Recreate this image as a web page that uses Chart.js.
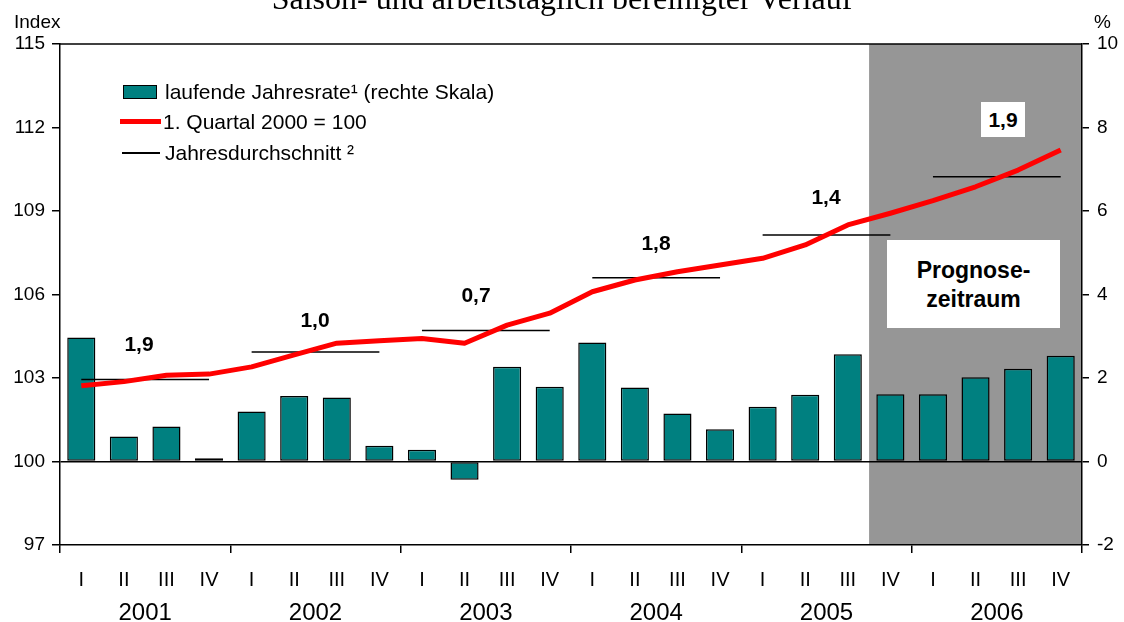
<!DOCTYPE html>
<html>
<head>
<meta charset="utf-8">
<script src="https://cdn.jsdelivr.net/npm/chart.js@4"></script>
<style>
    body { margin: 0; background: #fff; }
    #wrap { position: relative; width: 1124px; height: 622px; overflow: hidden; font-family: Arial, "Liberation Sans", sans-serif; color: #000; }
    #wrap canvas { position: absolute; left: 0; top: 0; }
    .abs { position: absolute; white-space: nowrap; }
    .title { left: 0; width: 1124px; top: -18px; text-align: center; font-family: "Times New Roman", "Liberation Serif", serif; font-size: 32px; line-height: 32px; }
    .unit { font-size: 19px; line-height: 20px; }
    .leg { font-size: 21px; line-height: 24px; }
    .val { font-size: 21px; font-weight: bold; line-height: 24px; transform: translate(-50%, -50%); }
    .prog { left: 887px; top: 240px; width: 173px; height: 88px; background: #fff; text-align: center; font-weight: bold; font-size: 23px; line-height: 29px; padding-top: 16px; box-sizing: border-box; }
</style>
</head>
<body>
<div id="wrap">
    <canvas id="chart" width="1124" height="622"></canvas>

    <div class="abs title">Saison- und arbeitstäglich bereinigter Verlauf</div>
    <div class="abs unit" style="left:14px; top:12px;">Index</div>
    <div class="abs unit" style="left:1094px; top:12px;">%</div>

    <!-- legend -->
    <div class="abs" style="left:123px; top:85px; width:32px; height:12px; background:#008080; border:1.5px solid #000;"></div>
    <div class="abs leg" style="left:165px; top:80px;">laufende Jahresrate¹ (rechte Skala)</div>
    <div class="abs" style="left:120px; top:119px; width:41px; height:5px; background:#ff0000;"></div>
    <div class="abs leg" style="left:163px; top:110px;">1. Quartal 2000 = 100</div>
    <div class="abs" style="left:122px; top:152px; width:38px; height:1.5px; background:#000;"></div>
    <div class="abs leg" style="left:165px; top:141px;">Jahresdurchschnitt ²</div>

    <!-- annual rates -->
    <div class="abs val" style="left:139px; top:344px;">1,9</div>
    <div class="abs val" style="left:315px; top:320px;">1,0</div>
    <div class="abs val" style="left:476px; top:295px;">0,7</div>
    <div class="abs val" style="left:656px; top:243px;">1,8</div>
    <div class="abs val" style="left:826px; top:197px;">1,4</div>
    <div class="abs" style="left:981px; top:102px; width:44px; height:35px; background:#fff;"></div>
    <div class="abs val" style="left:1003px; top:120px;">1,9</div>

    <div class="abs prog">Prognose-<br>zeitraum</div>
</div>

<script>
// --- data ---
const years = ["2001", "2002", "2003", "2004", "2005", "2006"];
const quarterNames = ["I", "II", "III", "IV"];

// laufende Jahresrate in % (right scale)
const rateValues = [
    2.97, 0.60, 0.84, 0.08,
    1.20, 1.57, 1.53, 0.38,
    0.28, -0.44, 2.27, 1.79,
    2.85, 1.77, 1.15, 0.77,
    1.31, 1.60, 2.57, 1.61,
    1.61, 2.02, 2.22, 2.53
];

// Index, 1. Quartal 2000 = 100 (left scale)
const indexValues = [
    102.72, 102.87, 103.10, 103.14,
    103.40, 103.83, 104.25, 104.34,
    104.42, 104.25, 104.90, 105.33,
    106.10, 106.52, 106.82, 107.06,
    107.30, 107.78, 108.50, 108.92,
    109.37, 109.87, 110.47, 111.19
];

// Jahresdurchschnitt of the index
const yearAverages = [102.95, 103.93, 104.71, 106.60, 108.14, 110.23];

const FORECAST_START = 19; // first forecast quarter (2005 IV)
const TEAL = "#008080";
const RED = "#ff0000";
const GREY = "#969696";

const labels = years.flatMap(y => quarterNames.map(q => q + " " + y));

Chart.defaults.font.family = "Arial, 'Liberation Sans', sans-serif";
Chart.defaults.color = "#000";

const avgSets = yearAverages.map((avg, k) => ({
    type: "line",
    data: labels.map((_, i) => Math.floor(i / 4) === k ? avg : null),
    yAxisID: "y",
    borderColor: "#000",
    borderWidth: 1.5,
    pointRadius: 0,
    spanGaps: false,
    order: 2
}));

// grey forecast area + top frame line, drawn under the scales
const forecastArea = {
    id: "forecastArea",
    beforeDraw(chart) {
        const { ctx, chartArea, scales } = chart;
        const step = scales.x.getPixelForValue(1) - scales.x.getPixelForValue(0);
        const x0 = scales.x.getPixelForValue(FORECAST_START) - step / 2;
        ctx.save();
        ctx.fillStyle = GREY;
        ctx.fillRect(x0, chartArea.top, chartArea.right - x0, chartArea.bottom - chartArea.top);
        ctx.strokeStyle = "#000";
        ctx.lineWidth = 1.5;
        ctx.beginPath();
        ctx.moveTo(chartArea.left, chartArea.top);
        ctx.lineTo(chartArea.right, chartArea.top);
        ctx.stroke();
        ctx.restore();
    }
};

const yearTick = c => (c.index === undefined || c.index % 4 === 0) ? "#000" : "rgba(0,0,0,0)";

new Chart(document.getElementById("chart"), {
    type: "bar",
    data: {
        labels: labels,
        datasets: [
            {
                type: "line",
                data: indexValues,
                yAxisID: "y",
                borderColor: RED,
                borderWidth: 5,
                pointRadius: 0,
                borderJoinStyle: "round",
                order: 1
            },
            ...avgSets,
            {
                type: "bar",
                data: rateValues,
                yAxisID: "y1",
                backgroundColor: TEAL,
                borderColor: "#000",
                borderWidth: 1.5,
                borderSkipped: false,
                categoryPercentage: 1,
                barPercentage: 0.66,
                order: 3
            }
        ]
    },
    options: {
        responsive: false,
        animation: false,
        layout: { padding: { top: 44 } },
        plugins: { legend: { display: false }, tooltip: { enabled: false } },
        scales: {
            x: {
                type: "category",
                offset: true,
                grid: { offset: true, drawOnChartArea: false, tickLength: 8, lineWidth: 1.5, color: yearTick, tickColor: yearTick },
                border: { color: "#000", width: 1.5 },
                ticks: { font: { size: 20 }, color: "#000", padding: 15, maxRotation: 0, autoSkip: false,
                         callback: (v, i) => quarterNames[i % 4] },
                afterFit: s => { s.height = 46; }
            },
            x2: {
                type: "category",
                labels: years,
                offset: true,
                position: "bottom",
                grid: { display: false },
                border: { display: false },
                ticks: { font: { size: 24 }, color: "#000", padding: 0, maxRotation: 0 },
                afterFit: s => { s.height = 31; }
            },
            y: {
                position: "left",
                min: 97,
                max: 115,
                ticks: { stepSize: 3, font: { size: 19 }, color: "#000", padding: 7 },
                grid: { lineWidth: 1.5, tickLength: 8, tickColor: "#000",
                        color: c => (c.tick && c.tick.value === 100) ? "#000" : "rgba(0,0,0,0)" },
                border: { color: "#000", width: 1.5 },
                afterFit: s => { s.width = 60; }
            },
            y1: {
                position: "right",
                min: -2,
                max: 10,
                ticks: { stepSize: 2, font: { size: 19 }, color: "#000", padding: 8 },
                grid: { drawOnChartArea: false, tickLength: 7, tickColor: "#000", lineWidth: 1.5 },
                border: { color: "#000", width: 1.5 },
                afterFit: s => { s.width = 42; }
            }
        }
    },
    plugins: [forecastArea]
});
</script>
</body>
</html>
